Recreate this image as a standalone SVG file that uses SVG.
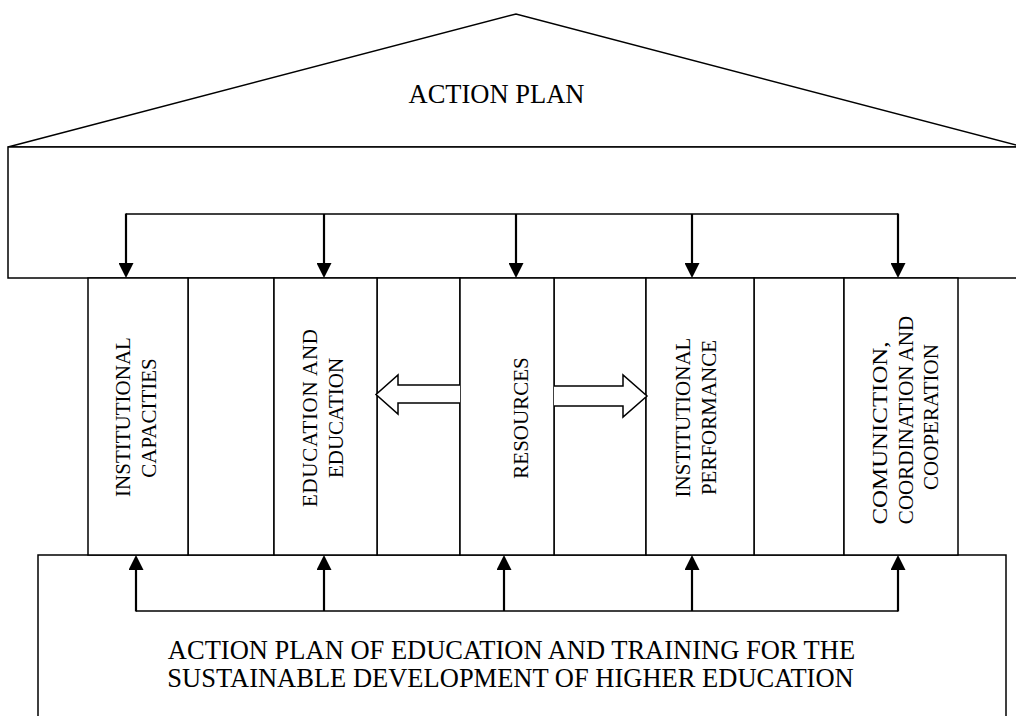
<svg xmlns="http://www.w3.org/2000/svg" width="1016" height="716" viewBox="0 0 1016 716">
<style>
.ln{fill:none;stroke:#000;stroke-width:1.5}
.bx{fill:#fff;stroke:#000;stroke-width:1.5}
.cn{fill:none;stroke:#000;stroke-width:2.2}
.hz{fill:none;stroke:#000;stroke-width:1.6}
.ha{fill:#fff;stroke:#000;stroke-width:1.5}
.t{font-family:"Liberation Serif","Times New Roman",serif;font-size:26.5px;fill:#000}
.v{font-family:"Liberation Serif","Times New Roman",serif;font-size:21px;fill:#000;text-anchor:middle}
</style>
<defs>
<marker id="ah" viewBox="0 0 15 15" refX="0" refY="7.5" markerWidth="15" markerHeight="15" markerUnits="userSpaceOnUse" orient="auto">
<path d="M0,0 L15,7.5 L0,15 Z" fill="#000"/>
</marker>
</defs>
<rect width="1016" height="716" fill="#fff"/>

<g id="roof">
<path class="bx" d="M8,147 L516,14 L1024,147 Z"/>
<text class="t" x="496.5" y="103" text-anchor="middle">ACTION PLAN</text>
</g>

<g id="upper-box">
<rect class="bx" x="8" y="147" width="1030" height="131"/>
</g>

<g id="lower-box">
<rect class="bx" x="38" y="555" width="968" height="200"/>
<text class="t" x="511.5" y="659" text-anchor="middle">ACTION PLAN OF EDUCATION AND TRAINING FOR THE</text>
<text class="t" x="510.5" y="687" text-anchor="middle">SUSTAINABLE DEVELOPMENT OF HIGHER EDUCATION</text>
</g>

<g id="gaps">
<rect class="bx" x="188" y="278" width="86" height="277"/>
<rect class="bx" x="377" y="278" width="83" height="277"/>
<rect class="bx" x="554" y="278" width="92" height="277"/>
<rect class="bx" x="754" y="278" width="90" height="277"/>
</g>

<g id="pillar-institutional-capacities">
<rect class="bx" x="88" y="278" width="100" height="277"/>
<text class="v" transform="translate(130,417) rotate(-90)">INSTITUTIONAL</text>
<text class="v" transform="translate(156,418) rotate(-90)">CAPACITIES</text>
</g>

<g id="pillar-education">
<rect class="bx" x="274" y="278" width="103" height="277"/>
<text class="v" transform="translate(316.5,418) rotate(-90)" textLength="178" lengthAdjust="spacing">EDUCATION  AND</text>
<text class="v" transform="translate(343,418) rotate(-90)">EDUCATION</text>
</g>

<g id="pillar-resources">
<rect class="bx" x="460" y="278" width="94" height="277"/>
<text class="v" transform="translate(528,418) rotate(-90)">RESOURCES</text>
</g>

<g id="pillar-institutional-performance">
<rect class="bx" x="646" y="278" width="108" height="277"/>
<text class="v" transform="translate(690,417.5) rotate(-90)">INSTITUTIONAL</text>
<text class="v" transform="translate(716,417.5) rotate(-90)">PERFORMANCE</text>
</g>

<g id="pillar-communication">
<rect class="bx" x="844" y="278" width="114" height="277"/>
<text class="v" transform="translate(886.5,433) rotate(-90)" textLength="183" lengthAdjust="spacingAndGlyphs">COMUNICTION,</text>
<text class="v" transform="translate(913,420) rotate(-90)">COORDINATION AND</text>
<text class="v" transform="translate(938,417) rotate(-90)">COOPERATION</text>
</g>

<g id="connectors">
<path class="hz" d="M126,214 H898"/>
<path class="cn" d="M126,213.5 V263" marker-end="url(#ah)"/>
<path class="cn" d="M324,214 V263" marker-end="url(#ah)"/>
<path class="cn" d="M516,214 V263" marker-end="url(#ah)"/>
<path class="cn" d="M692,214 V263" marker-end="url(#ah)"/>
<path class="cn" d="M898,213.5 V263" marker-end="url(#ah)"/>

<path class="hz" d="M136,611 H898"/>
<path class="cn" d="M136,611.5 V570" marker-end="url(#ah)"/>
<path class="cn" d="M324,611 V570" marker-end="url(#ah)"/>
<path class="cn" d="M504,611 V570" marker-end="url(#ah)"/>
<path class="cn" d="M692,611 V570" marker-end="url(#ah)"/>
<path class="cn" d="M898,611.5 V570" marker-end="url(#ah)"/>

<path class="ha" d="M460,385 H398 V375 L376,394.5 L398,414 V403 H460"/>
<path class="ha" d="M554,386 H623 V375 L647,396 L623,417 V406 H554"/>
</g>
</svg>
